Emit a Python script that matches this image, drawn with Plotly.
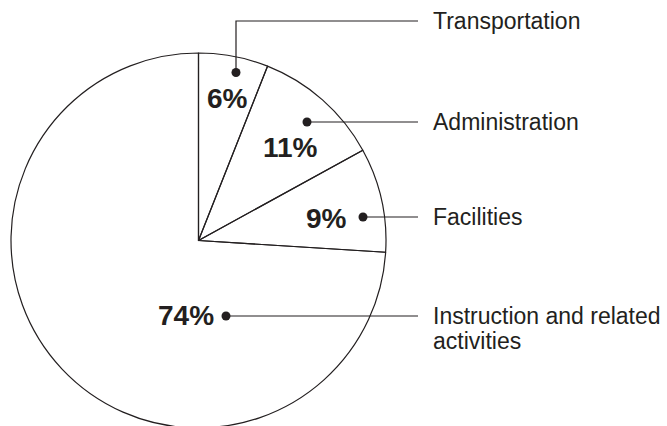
import plotly.graph_objects as go

# ---------------- data ----------------
categories = ["Transportation", "Administration", "Facilities", "Instruction and related activities"]
label_lines = [["Transportation"], ["Administration"], ["Facilities"], ["Instruction and related", "activities"]]
shares = [6, 11, 9, 74]

# ---------------- layout (pixels) ----------------
W = 667
H_FIG = 428          # slightly taller than the 426 px window, so the pie's bottom is clipped as in the reference
INK = "#231f20"
FONT = "Liberation Sans, Arial, Helvetica, sans-serif"

pie_cx, pie_top = 198.5, 53.0
pie_r = (H_FIG - pie_top) / 2.0

pct_pos = [(227, 98), (290, 147), (326, 218), (186, 315)]
dot_pos = [(236, 72.5), (307, 122), (363, 217), (226, 316)]
leader_y = [21, 122, 217, 316]
leader_end_x = 418
label_x = 431
line_gap = 25

fig = go.Figure()

fig.add_trace(go.Pie(
    labels=categories,
    values=shares,
    sort=False,
    direction="clockwise",
    rotation=0,
    textinfo="none",
    hoverinfo="skip",
    showlegend=False,
    marker=dict(colors=["rgba(0,0,0,0)"] * len(shares), line=dict(color=INK, width=1.2)),
    domain=dict(x=[(pie_cx - pie_r) / W, (pie_cx + pie_r) / W], y=[0, (H_FIG - pie_top) / H_FIG]),
))

# leader lines
lx, ly = [], []
for (dx, dy), y in zip(dot_pos, leader_y):
    lx += [dx, dx, leader_end_x, None]
    ly += [dy, y, y, None]
fig.add_trace(go.Scatter(x=lx, y=ly, mode="lines", line=dict(color=INK, width=1.2),
                         hoverinfo="skip", showlegend=False))
fig.add_trace(go.Scatter(x=[p[0] for p in dot_pos], y=[p[1] for p in dot_pos], mode="markers",
                         marker=dict(color=INK, size=9), hoverinfo="skip", showlegend=False))

annotations = []
for v, (px, py) in zip(shares, pct_pos):
    annotations.append(dict(x=px, y=py, xref="x", yref="y", text=f"<b>{v}%</b>", showarrow=False,
                            xanchor="center", yanchor="middle",
                            font=dict(family=FONT, size=28, color=INK)))
for lines, y in zip(label_lines, leader_y):
    for i, t in enumerate(lines):
        annotations.append(dict(x=label_x, y=y + i * line_gap, xref="x", yref="y", text=t, showarrow=False,
                                xanchor="left", yanchor="middle",
                                font=dict(family=FONT, size=23, color=INK)))

fig.update_layout(
    width=W, height=H_FIG, autosize=False,
    margin=dict(l=0, r=0, t=0, b=0),
    paper_bgcolor="white", plot_bgcolor="rgba(0,0,0,0)",
    xaxis=dict(range=[0, W], visible=False, fixedrange=True, domain=[0, 1]),
    yaxis=dict(range=[H_FIG, 0], visible=False, fixedrange=True, domain=[0, 1]),
    annotations=annotations,
)

fig.write_html("out.html", config={"displayModeBar": False},
               post_script="document.body.style.margin='0';document.body.style.overflow='hidden';")
